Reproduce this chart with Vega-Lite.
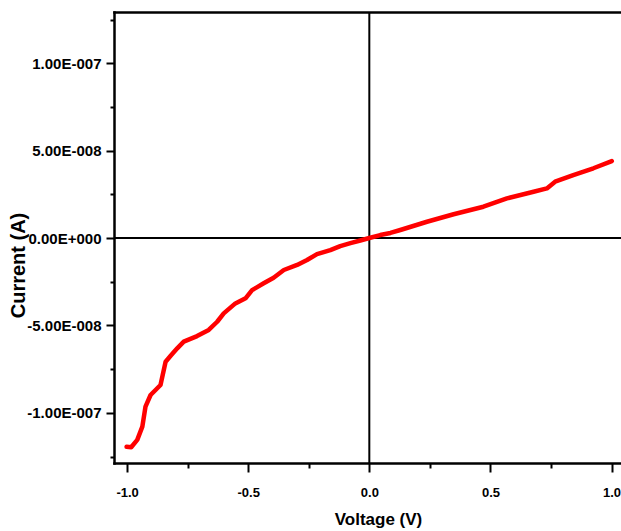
{
  "$schema": "https://vega.github.io/schema/vega-lite/v6.json",
  "width": 507,
  "height": 451,
  "autosize": {"type": "none"},
  "padding": {"left": 114, "top": 12, "right": 0, "bottom": 68},
  "background": "white",
  "config": {
    "view": {"stroke": null},
    "axis": {
      "grid": false,
      "domainColor": "black",
      "domainWidth": 2.5,
      "domainCap": "square",
      "tickColor": "black",
      "tickWidth": 2,
      "labelFont": "Liberation Sans",
      "labelFontWeight": "bold",
      "labelColor": "black",
      "titleFont": "Liberation Sans",
      "titleFontWeight": "bold",
      "titleColor": "black",
      "labelOverlap": false,
      "labelFlush": false
    }
  },
  "datasets": {
    "iv": [
      {"v": -1.002, "i": -1.194e-7},
      {"v": -0.983, "i": -1.197e-7},
      {"v": -0.958, "i": -1.155e-7},
      {"v": -0.937, "i": -1.079e-7},
      {"v": -0.924, "i": -0.965e-7},
      {"v": -0.903, "i": -0.898e-7},
      {"v": -0.862, "i": -0.841e-7},
      {"v": -0.841, "i": -0.708e-7},
      {"v": -0.821, "i": -0.675e-7},
      {"v": -0.793, "i": -0.631e-7},
      {"v": -0.766, "i": -0.593e-7},
      {"v": -0.711, "i": -0.561e-7},
      {"v": -0.663, "i": -0.526e-7},
      {"v": -0.628, "i": -0.479e-7},
      {"v": -0.601, "i": -0.431e-7},
      {"v": -0.553, "i": -0.374e-7},
      {"v": -0.511, "i": -0.345e-7},
      {"v": -0.484, "i": -0.298e-7},
      {"v": -0.436, "i": -0.259e-7},
      {"v": -0.395, "i": -0.227e-7},
      {"v": -0.353, "i": -0.183e-7},
      {"v": -0.298, "i": -0.154e-7},
      {"v": -0.257, "i": -0.126e-7},
      {"v": -0.216, "i": -0.092e-7},
      {"v": -0.161, "i": -0.069e-7},
      {"v": -0.120, "i": -0.046e-7},
      {"v": -0.078, "i": -0.029e-7},
      {"v": -0.037, "i": -0.014e-7},
      {"v": 0.0, "i": 0.0},
      {"v": 0.045, "i": 0.017e-7},
      {"v": 0.087, "i": 0.029e-7},
      {"v": 0.128, "i": 0.046e-7},
      {"v": 0.238, "i": 0.093e-7},
      {"v": 0.348, "i": 0.136e-7},
      {"v": 0.471, "i": 0.179e-7},
      {"v": 0.568, "i": 0.227e-7},
      {"v": 0.678, "i": 0.265e-7},
      {"v": 0.733, "i": 0.284e-7},
      {"v": 0.767, "i": 0.322e-7},
      {"v": 0.842, "i": 0.360e-7},
      {"v": 0.925, "i": 0.399e-7},
      {"v": 1.001, "i": 0.440e-7}
    ],
    "origin": [{"v": 0, "i": 0}]
  },
  "layer": [
    {
      "data": {"name": "origin"},
      "mark": {"type": "rule", "color": "black", "strokeWidth": 2},
      "encoding": {
        "x": {"field": "v", "type": "quantitative", "axis": null,
              "scale": {"domain": [-1.054, 1.039], "nice": false, "zero": false}}
      }
    },
    {
      "data": {"name": "origin"},
      "mark": {"type": "rule", "color": "black", "strokeWidth": 2},
      "encoding": {
        "y": {"field": "i", "type": "quantitative",
              "scale": {"domain": [-1.287e-7, 1.293e-7], "nice": false, "zero": false}}
      }
    },
    {
      "data": {"name": "iv"},
      "mark": {"type": "line", "color": "#ff0000", "strokeWidth": 4.5, "strokeCap": "round", "strokeJoin": "round"},
      "encoding": {
        "x": {
          "field": "v", "type": "quantitative",
          "scale": {"domain": [-1.054, 1.039], "nice": false, "zero": false},
          "axis": {
            "orient": "bottom",
            "values": [-1, -0.75, -0.5, -0.25, 0, 0.25, 0.5, 0.75, 1],
            "labelExpr": "datum.value == -1 ? '-1.0' : datum.value == -0.5 ? '-0.5' : datum.value == 0 ? '0.0' : datum.value == 0.5 ? '0.5' : datum.value == 1 ? '1.0' : ''",
            "tickSize": {"condition": {"test": "abs(datum.value * 2 - round(datum.value * 2)) < 0.01", "value": 9}, "value": 5},
            "labelFontSize": 13,
            "labelPadding": 14,
            "title": "Voltage (V)",
            "titleFontSize": 17,
            "titleX": 264,
            "titleY": 61,
            "titleAlign": "center",
            "titleBaseline": "alphabetic"
          }
        },
        "y": {
          "field": "i", "type": "quantitative",
          "scale": {"domain": [-1.287e-7, 1.293e-7], "nice": false, "zero": false},
          "axis": {
            "orient": "left",
            "values": [-1.25e-7, -1e-7, -7.5e-8, -5e-8, -2.5e-8, 0, 2.5e-8, 5e-8, 7.5e-8, 1e-7, 1.25e-7],
            "labelExpr": "datum.value > 9e-8 && datum.value < 1.1e-7 ? '1.00E-007' : datum.value > 4e-8 && datum.value < 6e-8 ? '5.00E-008' : abs(datum.value) < 1e-9 ? '0.00E+000' : datum.value < -4e-8 && datum.value > -6e-8 ? '-5.00E-008' : datum.value < -9e-8 && datum.value > -1.1e-7 ? '-1.00E-007' : ''",
            "tickSize": {"condition": {"test": "abs(datum.value / 5e-8 - round(datum.value / 5e-8)) < 0.01", "value": 8}, "value": 4},
            "labelFontSize": 15,
            "labelPadding": 5,
            "title": "Current (A)",
            "titleFontSize": 20,
            "titleAngle": -90,
            "titleX": -96,
            "titleY": 253,
            "titleAlign": "center",
            "titleBaseline": "middle"
          }
        }
      }
    },
    {
      "data": {"name": "origin"},
      "mark": {"type": "rule", "opacity": 0},
      "encoding": {
        "x": {
          "field": "v", "type": "quantitative",
          "scale": {"domain": [-1.054, 1.039], "nice": false, "zero": false},
          "axis": {"orient": "top", "ticks": false, "labels": false, "title": null, "domain": true}
        }
      }
    }
  ],
  "resolve": {"axis": {"x": "independent"}}
}
